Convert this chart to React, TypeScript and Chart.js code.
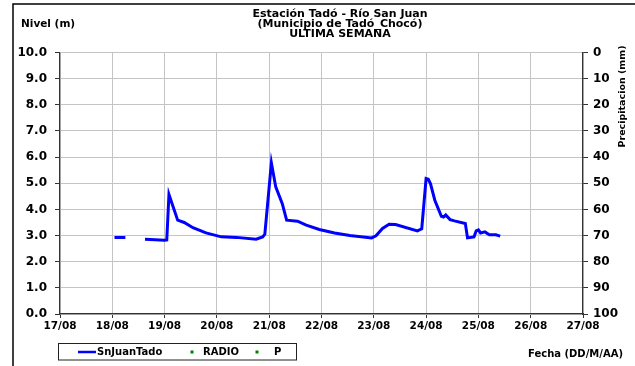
import React, { useEffect, useRef } from "react";
import { Chart, registerables } from "chart.js";

Chart.register(...registerables);

// ---- data ----
const dateLabels = ["17/08", "18/08", "19/08", "20/08", "21/08", "22/08", "23/08", "24/08", "25/08", "26/08", "27/08"];
// hours since 17/08 00:00
const hours = [
  25, 30, 34,
  39, 48, 49, 50, 54, 57, 61, 67, 74, 81, 90, 93, 94,
  97, 99, 102, 104, 109, 113, 119, 126, 133, 143, 145, 148, 151, 154,
  164, 166, 168, 169, 170, 172, 175, 176, 177, 179, 181, 186, 187, 190,
  191, 192, 193, 195, 197, 200, 202,
];
const levels: (number | null)[] = [
  2.93, 2.93, null,
  2.86, 2.82, 2.83, 4.57, 3.59, 3.5, 3.3, 3.1, 2.95, 2.93, 2.86, 2.95, 3.05,
  5.78, 4.86, 4.22, 3.59, 3.55, 3.4, 3.23, 3.1, 3.0, 2.91, 2.99, 3.27, 3.43, 3.42,
  3.18, 3.26, 5.18, 5.15, 4.99, 4.35, 3.74, 3.71, 3.79, 3.61, 3.56, 3.46, 2.91, 2.95,
  3.18, 3.22, 3.1, 3.14, 3.03, 3.03, 2.98,
];
const radioValues: number[] = [];
const pValues: number[] = [];

const titleLines = ["Estación Tadó - Río San Juan", "(Municipio de Tadó_Chocó)", "ULTIMA SEMANA"];
const FONT = "'DejaVu Sans', sans-serif";

const decorPlugin = {
  id: "decor",
  afterDraw(chart: any) {
    const ctx = chart.ctx as CanvasRenderingContext2D;
    ctx.save();
    // outer frame
    ctx.strokeStyle = "#000";
    ctx.lineWidth = 1.5;
    ctx.beginPath();
    ctx.moveTo(13, 366);
    ctx.lineTo(13, 4);
    ctx.lineTo(635, 4);
    ctx.stroke();

    ctx.fillStyle = "#000";
    ctx.textBaseline = "middle";
    // title
    ctx.font = `bold 11px ${FONT}`;
    ctx.textAlign = "center";
    const ty = [14.5, 24.5, 34];
    titleLines.forEach((t, i) => ctx.fillText(t, 340, ty[i]));
    // left axis title
    ctx.font = `bold 10.5px ${FONT}`;
    ctx.textAlign = "left";
    ctx.fillText("Nivel (m)", 21, 24.5);
    // x axis title
    ctx.font = `bold 10px ${FONT}`;
    ctx.fillText("Fecha (DD/M/AA)", 528, 354);
    // right axis title
    ctx.save();
    ctx.translate(622.5, 96.5);
    ctx.rotate(-Math.PI / 2);
    ctx.textAlign = "center";
    ctx.font = `bold 9.5px ${FONT}`;
    ctx.fillText("Precipitacion (mm)", 0, 0);
    ctx.restore();

    // legend
    const ds = chart.data.datasets;
    ctx.strokeStyle = "#222";
    ctx.lineWidth = 1;
    ctx.strokeRect(58.5, 343.5, 238, 16.5);
    const ly = 352;
    ctx.strokeStyle = ds[0].borderColor;
    ctx.lineWidth = 2.5;
    ctx.beginPath();
    ctx.moveTo(78, ly);
    ctx.lineTo(96, ly);
    ctx.stroke();
    ctx.font = `bold 10px ${FONT}`;
    ctx.textAlign = "left";
    ctx.fillStyle = "#000";
    ctx.fillText(ds[0].label, 97, ly);
    ctx.fillStyle = ds[1].backgroundColor;
    ctx.fillRect(190.5, ly - 1.5, 3, 3);
    ctx.fillStyle = "#000";
    ctx.fillText(ds[1].label, 203, ly);
    ctx.fillStyle = ds[2].backgroundColor;
    ctx.fillRect(255.5, ly - 1.5, 3, 3);
    ctx.fillStyle = "#000";
    ctx.fillText(ds[2].label, 274, ly);
    ctx.restore();
  },
};

export default function App() {
  const ref = useRef<HTMLCanvasElement | null>(null);
  useEffect(() => {
    document.body.style.margin = "0";
    const canvas = ref.current!;
    const levelData = hours.map((h, i) => ({ x: h, y: levels[i] }));
    const chart = new Chart(canvas, {
      type: "line",
      data: {
        datasets: [
          {
            label: "SnJuanTado",
            data: levelData as any,
            borderColor: "#0000FF",
            backgroundColor: "#0000FF",
            borderWidth: 3,
            pointRadius: 0,
            tension: 0,
            spanGaps: false,
            yAxisID: "y",
          },
          {
            label: "RADIO",
            data: radioValues as any,
            borderColor: "#008000",
            backgroundColor: "#008000",
            showLine: false,
            pointStyle: "rect",
            pointRadius: 2,
            yAxisID: "y2",
          },
          {
            label: "P",
            data: pValues as any,
            borderColor: "#008000",
            backgroundColor: "#008000",
            showLine: false,
            pointStyle: "rect",
            pointRadius: 2,
            yAxisID: "y2",
          },
        ],
      },
      options: {
        responsive: false,
        animation: false,
        devicePixelRatio: 1,
        layout: { padding: { top: 52.5, bottom: 22, left: 0, right: 0 } },
        plugins: {
          legend: { display: false },
          title: { display: false },
          tooltip: { enabled: false },
        },
        scales: {
          x: {
            type: "linear",
            min: 0,
            max: 240,
            afterFit: (s: any) => { s.height = 30; },
            afterBuildTicks: (s: any) => {
              s.ticks = dateLabels.map((_, i) => ({ value: i * 24 }));
            },
            ticks: {
              autoSkip: false,
              maxRotation: 0,
              padding: 2,
              color: "#000",
              font: { family: FONT, size: 10.5, weight: "bold" },
              callback: (v: any) => dateLabels[Math.round(Number(v) / 24)],
            },
            grid: { color: "#c4c4c4", lineWidth: 1, tickLength: 4, tickColor: "#333" },
            border: { color: "#333", width: 1.2 },
          },
          y: {
            position: "left",
            min: 0,
            max: 10,
            afterFit: (s: any) => { s.width = 60; },
            ticks: {
              stepSize: 1,
              padding: 8,
              color: "#000",
              font: { family: FONT, size: 12, weight: "bold" },
              callback: (v: any) => Number(v).toFixed(1),
            },
            grid: { color: "#c4c4c4", lineWidth: 1, tickLength: 5, tickColor: "#333" },
            border: { color: "#333", width: 1.2 },
          },
          y2: {
            position: "right",
            reverse: true,
            min: 0,
            max: 100,
            afterFit: (s: any) => { s.width = 52; },
            ticks: {
              stepSize: 10,
              padding: 5,
              color: "#000",
              font: { family: FONT, size: 12, weight: "bold" },
            },
            grid: { drawOnChartArea: false, tickLength: 5, tickColor: "#333" },
            border: { color: "#333", width: 1.2 },
          },
        },
      },
      plugins: [decorPlugin],
    } as any);
    return () => chart.destroy();
  }, []);
  return (
    <div style={{ position: "absolute", left: 0, top: 0, width: 635, height: 366, background: "#fff" }}>
      <canvas ref={ref} width={635} height={366} style={{ width: 635, height: 366, display: "block" }} />
    </div>
  );
}
